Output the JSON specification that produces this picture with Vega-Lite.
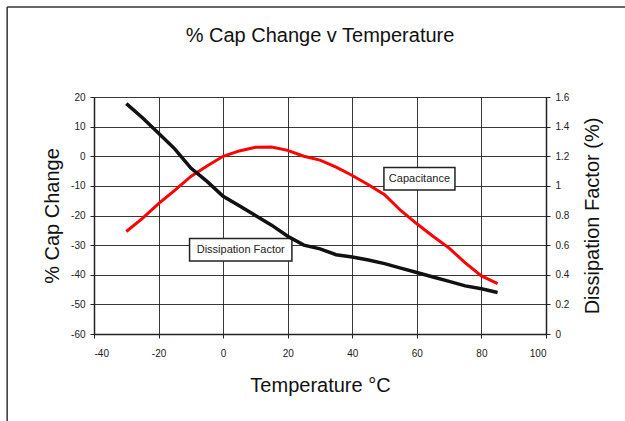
{
  "$schema": "https://vega.github.io/schema/vega-lite/v6.json",
  "width": 452,
  "height": 237,
  "autosize": "none",
  "padding": {"left": 94, "top": 97, "right": 79, "bottom": 87},
  "background": "white",
  "config": {
    "font": "Liberation Sans",
    "view": {"stroke": null},
    "axis": {
      "labelFont": "Liberation Sans",
      "titleFont": "Liberation Sans",
      "labelFontSize": 10,
      "labelColor": "#222",
      "labelOverlap": false,
      "titleFontSize": 20,
      "titleFontWeight": "normal",
      "titleColor": "#111",
      "domainColor": "#222",
      "domainWidth": 1.5,
      "tickColor": "#222",
      "tickSize": 4,
      "gridColor": "#222",
      "gridWidth": 1,
      "gridOpacity": 0.9
    }
  },
  "title": {
    "text": "% Cap Change v Temperature",
    "font": "Liberation Sans",
    "fontSize": 20,
    "fontWeight": "normal",
    "color": "#111",
    "offset": -40
  },
  "datasets": {
    "curves": [
      {"temp": -30, "cap": -25.4, "df": 1.555},
      {"temp": -25, "cap": -21.0, "df": 1.46},
      {"temp": -20, "cap": -16.0, "df": 1.355},
      {"temp": -15, "cap": -11.5, "df": 1.25},
      {"temp": -10, "cap": -6.8, "df": 1.12},
      {"temp": -5, "cap": -3.3, "df": 1.03},
      {"temp": 0, "cap": 0.0, "df": 0.93},
      {"temp": 5, "cap": 1.8, "df": 0.865},
      {"temp": 10, "cap": 3.0, "df": 0.80},
      {"temp": 15, "cap": 3.1, "df": 0.735},
      {"temp": 20, "cap": 2.0, "df": 0.66},
      {"temp": 25, "cap": 0.0, "df": 0.60},
      {"temp": 30, "cap": -1.3, "df": 0.575},
      {"temp": 35, "cap": -3.7, "df": 0.535},
      {"temp": 40, "cap": -6.5, "df": 0.52},
      {"temp": 45, "cap": -9.6, "df": 0.50},
      {"temp": 50, "cap": -13.0, "df": 0.475},
      {"temp": 55, "cap": -18.3, "df": 0.445},
      {"temp": 60, "cap": -22.8, "df": 0.415},
      {"temp": 65, "cap": -27.0, "df": 0.385},
      {"temp": 70, "cap": -31.0, "df": 0.355},
      {"temp": 75, "cap": -36.0, "df": 0.325},
      {"temp": 80, "cap": -40.4, "df": 0.305},
      {"temp": 85, "cap": -43.0, "df": 0.28}
    ],
    "notes": [
      {"label": "Capacitance", "x1": 49.8, "x2": 71.8, "y1": -3.8, "y2": -11.4, "xc": 60.8, "yc": -7.6},
      {"label": "Dissipation Factor", "x1": -10.4, "x2": 21.3, "y1": -27.8, "y2": -35.4, "xc": 5.45, "yc": -31.6}
    ],
    "frame": [
      {"left": -66.9, "right": 130, "top": 50.4, "bottom": -95}
    ]
  },
  "layer": [
    {
      "layer": [
        {
          "data": {"name": "curves"},
          "mark": {"type": "line", "color": "#ff0000", "strokeWidth": 3, "clip": false},
          "encoding": {
            "x": {
              "field": "temp", "type": "quantitative",
              "scale": {"domain": [-40, 100], "nice": false, "zero": false},
              "axis": {
                "values": [-40, -20, 0, 20, 40, 60, 80, 100],
                "grid": true,
                "title": "Temperature °C",
                "labelPadding": 10,
                "titlePadding": 17,
                "labelExpr": "'' + datum.value"
              }
            },
            "y": {
              "field": "cap", "type": "quantitative",
              "scale": {"domain": [-60, 20], "nice": false, "zero": false},
              "axis": {
                "values": [-60, -50, -40, -30, -20, -10, 0, 10, 20],
                "grid": true,
                "title": "% Cap Change",
                "labelPadding": 5,
                "titlePadding": 8,
                "labelExpr": "'' + datum.value"
              }
            }
          }
        },
        {
          "data": {"name": "notes"},
          "mark": {"type": "rect", "fill": "white", "stroke": "#222", "strokeWidth": 1.5},
          "encoding": {
            "x": {"field": "x1", "type": "quantitative", "title": "Temperature °C",
              "axis": {"values": [-40, -20, 0, 20, 40, 60, 80, 100], "grid": true, "title": "Temperature °C", "labelPadding": 10, "titlePadding": 17, "labelExpr": "'' + datum.value"}},
            "x2": {"field": "x2"},
            "y": {"field": "y1", "type": "quantitative", "title": "% Cap Change",
              "axis": {"values": [-60, -50, -40, -30, -20, -10, 0, 10, 20], "grid": true, "title": "% Cap Change", "labelPadding": 5, "titlePadding": 8, "labelExpr": "'' + datum.value"}},
            "y2": {"field": "y2"}
          }
        },
        {
          "data": {"name": "notes"},
          "mark": {"type": "text", "font": "Liberation Sans", "fontSize": 11, "color": "#222", "align": "center", "baseline": "middle"},
          "encoding": {
            "x": {"field": "xc", "type": "quantitative", "title": "Temperature °C",
              "axis": {"values": [-40, -20, 0, 20, 40, 60, 80, 100], "grid": true, "title": "Temperature °C", "labelPadding": 10, "titlePadding": 17, "labelExpr": "'' + datum.value"}},
            "y": {"field": "yc", "type": "quantitative", "title": "% Cap Change",
              "axis": {"values": [-60, -50, -40, -30, -20, -10, 0, 10, 20], "grid": true, "title": "% Cap Change", "labelPadding": 5, "titlePadding": 8, "labelExpr": "'' + datum.value"}},
            "text": {"field": "label"}
          }
        },
        {
          "data": {"name": "frame"},
          "mark": {"type": "rule", "color": "#333", "strokeWidth": 1.5, "clip": false},
          "encoding": {
            "x": {"field": "left", "type": "quantitative", "title": "Temperature °C",
              "axis": {"values": [-40, -20, 0, 20, 40, 60, 80, 100], "grid": true, "title": "Temperature °C", "labelPadding": 10, "titlePadding": 17, "labelExpr": "'' + datum.value"}},
            "x2": {"field": "right"},
            "y": {"field": "top", "type": "quantitative", "title": "% Cap Change",
              "axis": {"values": [-60, -50, -40, -30, -20, -10, 0, 10, 20], "grid": true, "title": "% Cap Change", "labelPadding": 5, "titlePadding": 8, "labelExpr": "'' + datum.value"}}
          }
        },
        {
          "data": {"name": "frame"},
          "mark": {"type": "rule", "color": "#333", "strokeWidth": 1.5, "clip": false},
          "encoding": {
            "x": {"field": "left", "type": "quantitative", "title": "Temperature °C",
              "axis": {"values": [-40, -20, 0, 20, 40, 60, 80, 100], "grid": true, "title": "Temperature °C", "labelPadding": 10, "titlePadding": 17, "labelExpr": "'' + datum.value"}},
            "y": {"field": "top", "type": "quantitative", "title": "% Cap Change",
              "axis": {"values": [-60, -50, -40, -30, -20, -10, 0, 10, 20], "grid": true, "title": "% Cap Change", "labelPadding": 5, "titlePadding": 8, "labelExpr": "'' + datum.value"}},
            "y2": {"field": "bottom"}
          }
        }
      ]
    },
    {
      "data": {"name": "curves"},
      "mark": {"type": "line", "color": "#111", "strokeWidth": 3.5},
      "encoding": {
        "x": {"field": "temp", "type": "quantitative", "title": "Temperature °C",
          "axis": {"values": [-40, -20, 0, 20, 40, 60, 80, 100], "grid": true, "title": "Temperature °C", "labelPadding": 10, "titlePadding": 17, "labelExpr": "'' + datum.value"}},
        "y": {
          "field": "df", "type": "quantitative",
          "scale": {"domain": [0, 1.6], "nice": false, "zero": false},
          "axis": {
            "orient": "right",
            "values": [0, 0.2, 0.4, 0.6, 0.8, 1, 1.2, 1.4, 1.6],
            "grid": false,
            "title": "Dissipation Factor (%)",
            "titleAngle": 270,
            "titleBaseline": "top",
            "labelPadding": 5,
            "titlePadding": 14,
            "labelExpr": "'' + datum.value"
          }
        }
      }
    }
  ],
  "resolve": {"scale": {"y": "independent"}}
}
